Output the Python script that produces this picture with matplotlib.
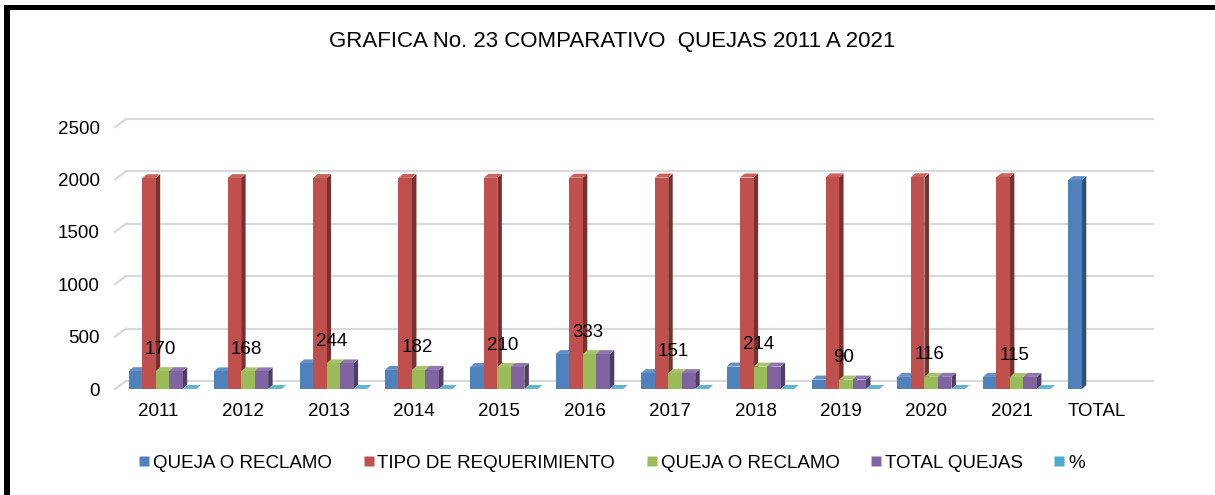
import matplotlib
matplotlib.use("Agg")
import matplotlib.pyplot as plt
from matplotlib.patches import Rectangle, Polygon
from matplotlib.lines import Line2D
from matplotlib.colors import to_rgb

plt.rcParams['font.family'] = ['Liberation Sans', 'DejaVu Sans']

# data
categorias = ['2011', '2012', '2013', '2014', '2015', '2016', '2017', '2018',
              '2019', '2020', '2021', 'TOTAL']
queja_reclamo = [170, 168, 244, 182, 210, 333, 151, 214, 90, 116, 115, 1993]
tipo_requerimiento = [2011, 2012, 2013, 2014, 2015, 2016, 2017, 2018, 2019,
                      2020, 2021, None]
queja_reclamo_2 = [170, 168, 244, 182, 210, 333, 151, 214, 90, 116, 115, None]
total_quejas = [170, 168, 244, 182, 210, 333, 151, 214, 90, 116, 115, None]
porcentaje = [0.09, 0.08, 0.12, 0.09, 0.11, 0.17, 0.08, 0.11, 0.05, 0.06, 0.06, None]

series = [
    ('QUEJA O RECLAMO', queja_reclamo, '#4F81BD'),
    ('TIPO DE REQUERIMIENTO', tipo_requerimiento, '#C0504D'),
    ('QUEJA O RECLAMO', queja_reclamo_2, '#9BBB59'),
    ('TOTAL QUEJAS', total_quejas, '#8064A2'),
    ('%', porcentaje, '#4BACC6'),
]

FS = 13.5

W, H = 1215, 495
fig = plt.figure(figsize=(W / 100, H / 100), dpi=100)
ax_l, ax_r, ax_b, ax_t = 115, 1140, 389, 127
ax = fig.add_axes([ax_l / W, (H - ax_b) / H, (ax_r - ax_l) / W, (ax_b - ax_t) / H])
ax.set_xlim(-0.5, 11.5)
ax.set_ylim(0, 2500)

# data units per pixel
ux = 12 / (ax_r - ax_l)
uy = 2500 / (ax_b - ax_t)


def shade(color, f):
    r, g, b = to_rgb(color)
    if f < 1:
        return (r * f, g * f, b * f)
    return (r + (1 - r) * (f - 1), g + (1 - g) * (f - 1), b + (1 - b) * (f - 1))


# back wall gridlines with the left wall diagonal
wx, wy = 11 * ux, 8 * uy
for v in range(0, 2501, 500):
    ax.plot([-0.5, -0.5 + wx], [v, v + wy], color='#d9d9d9', lw=1.6,
            clip_on=False, zorder=0)
    ax.plot([-0.5 + wx, 11.5 + 13 * ux], [v + wy, v + wy], color='#d9d9d9',
            lw=1.6, clip_on=False, zorder=0)

# 3d columns
bw = 13.5 * ux
off0 = -29 * ux
dx, dy = 4.5 * ux, 4 * uy


def bar3d(x, h, color, z):
    ax.add_patch(Polygon([(x + bw, 0), (x + bw + dx, dy), (x + bw + dx, h + dy),
                          (x + bw, h)], closed=True, fc=shade(color, 0.62),
                         ec='none', zorder=z))
    ax.add_patch(Polygon([(x, h), (x + dx, h + dy), (x + bw + dx, h + dy),
                          (x + bw, h)], closed=True, fc=shade(color, 1.12),
                         ec='none', zorder=z))
    ax.add_patch(Rectangle((x, 0), bw, h, fc=color, ec='none', zorder=z))


z = 2
for i in range(len(categorias)):
    for j, (_, vals, col) in enumerate(series):
        v = vals[i]
        if v is None:
            continue
        bar3d(i + off0 + j * bw, v, col, z)
        z += 1

# value labels
for i, v in enumerate(total_quejas):
    if v is None:
        continue
    ax.annotate(str(v), (i + 3 * ux, v), xytext=(0, 15.8), textcoords='offset points',
                ha='center', va='center', fontsize=FS, zorder=200)

ax.set_xticks(range(len(categorias)))
ax.set_xticklabels(categorias, fontsize=FS)
ax.set_yticks(range(0, 2501, 500))
ax.set_yticklabels([str(t) for t in range(0, 2501, 500)], fontsize=FS)
ax.tick_params(axis='x', length=0, pad=10)
ax.tick_params(axis='y', length=0, pad=11)
for s in ax.spines.values():
    s.set_visible(False)
ax.patch.set_alpha(0)

fig.text(612 / W, 1 - 42 / H, 'GRAFICA No. 23 COMPARATIVO  QUEJAS 2011 A 2021',
         ha='center', va='center', fontsize=16)

handles = [Line2D([], [], marker='s', linestyle='none', markersize=7.5,
                  markerfacecolor=c, markeredgecolor='none') for _, _, c in series]
fig.legend(handles, [n for n, _, _ in series], loc='center',
           bbox_to_anchor=(612 / W, 1 - 463 / H), ncol=5, frameon=False,
           fontsize=FS, handlelength=0.55, handletextpad=0.2, columnspacing=1.67)

# frame lines on the left and top
fig.add_artist(Rectangle((4 / W, 0), 6 / W, (H - 5) / H, transform=fig.transFigure,
                         fc='black', ec='none'))
fig.add_artist(Rectangle((4 / W, 1 - 10 / H), (W - 4) / W, 5 / H,
                         transform=fig.transFigure, fc='black', ec='none'))

fig.savefig('out.png', dpi=100)
